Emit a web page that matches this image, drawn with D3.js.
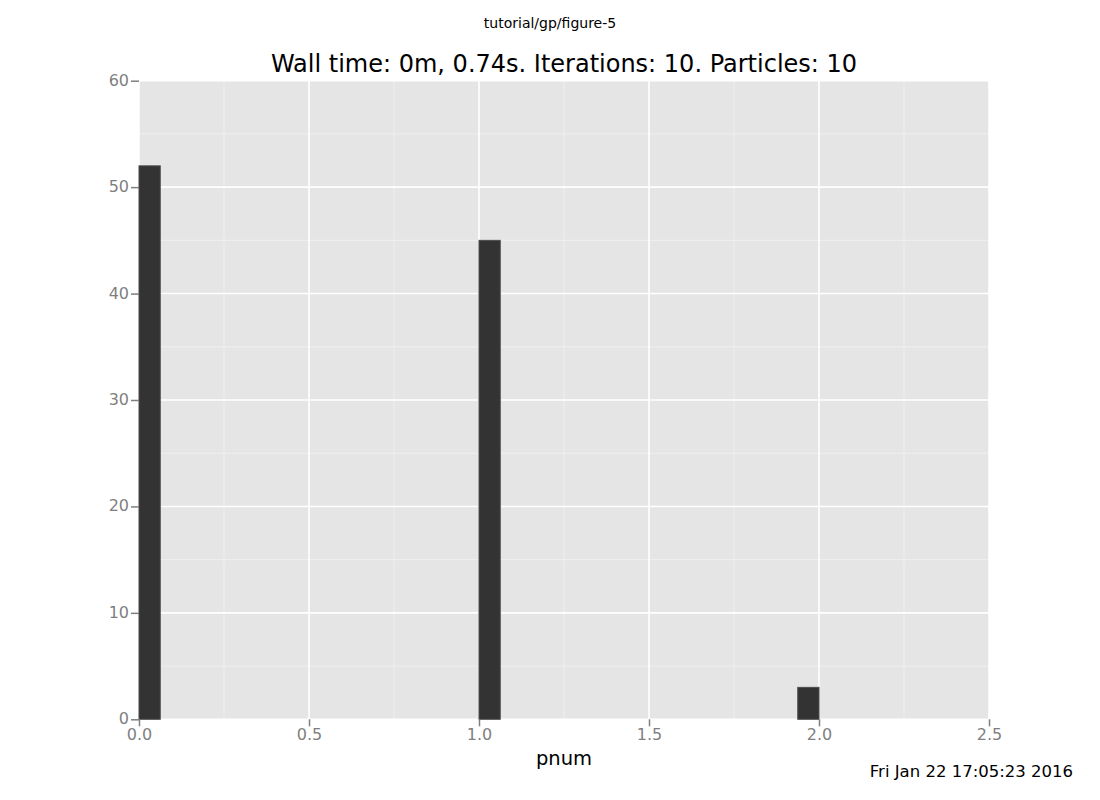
<!DOCTYPE html>
<html>
<head>
<meta charset="utf-8">
<script src="https://cdn.jsdelivr.net/npm/d3@7"></script>
<style>
  body { margin: 0; background: #fff; }
  text { font-family: "DejaVu Sans", sans-serif; }
</style>
</head>
<body>
<div id="chart"></div>
<script>
// histogram bins of pnum (start, end) and their counts
const binStarts = [0.0, 1.0, 1.9375];
const binEnds = [0.0625, 1.0625, 2.0];
const counts = [52, 45, 3];
const xTicks = [0.0, 0.5, 1.0, 1.5, 2.0, 2.5];
const yTicks = [0, 10, 20, 30, 40, 50, 60];

const width = 1100, height = 800;
const margin = {top: 80.7, right: 111, bottom: 80.7, left: 139};
const iw = width - margin.left - margin.right,
	ih = height - margin.top - margin.bottom;

const svg = d3.select("#chart").append("svg")
	.attr("width", width)
	.attr("height", height);

const x = d3.scaleLinear().domain([0, 2.5]).range([0, iw]);
const y = d3.scaleLinear().domain([0, 60]).range([ih, 0]);

const g = svg.append("g")
	.attr("transform", "translate(" + margin.left + "," + margin.top + ")");

// panel background
g.append("rect")
	.attr("width", iw)
	.attr("height", ih)
	.attr("fill", "#e5e5e5");

// minor grid
const xMinor = d3.range(0.25, 2.5, 0.5);
const yMinor = d3.range(5, 60, 10);
g.selectAll(".xminor").data(xMinor).enter().append("line")
	.attr("x1", d => x(d)).attr("x2", d => x(d))
	.attr("y1", 0).attr("y2", ih)
	.attr("stroke", "#f2f2f2").attr("stroke-width", 0.8);
g.selectAll(".yminor").data(yMinor).enter().append("line")
	.attr("x1", 0).attr("x2", iw)
	.attr("y1", d => y(d)).attr("y2", d => y(d))
	.attr("stroke", "#f2f2f2").attr("stroke-width", 0.8);

// major grid
g.selectAll(".xmajor").data(xTicks).enter().append("line")
	.attr("x1", d => x(d)).attr("x2", d => x(d))
	.attr("y1", 0).attr("y2", ih)
	.attr("stroke", "#ffffff").attr("stroke-width", 1.6);
g.selectAll(".ymajor").data(yTicks).enter().append("line")
	.attr("x1", 0).attr("x2", iw)
	.attr("y1", d => y(d)).attr("y2", d => y(d))
	.attr("stroke", "#ffffff").attr("stroke-width", 1.6);

// bars
g.selectAll(".bar").data(counts).enter().append("rect")
	.attr("class", "bar")
	.attr("x", (d, i) => x(binStarts[i]))
	.attr("width", (d, i) => x(binEnds[i]) - x(binStarts[i]))
	.attr("y", d => y(d))
	.attr("height", d => ih - y(d))
	.attr("fill", "#333333")
	.attr("stroke", "#4d4d4d")
	.attr("stroke-width", 1);

// axes
const xAxis = g.append("g")
	.attr("transform", "translate(0," + ih + ")")
	.call(d3.axisBottom(x).tickValues(xTicks).tickFormat(d3.format(".1f")).tickSize(7).tickPadding(2));
const yAxis = g.append("g")
	.call(d3.axisLeft(y).tickValues(yTicks).tickFormat(d3.format("d")).tickSize(8).tickPadding(2));

[xAxis, yAxis].forEach(a => {
	a.select(".domain").remove();
	a.selectAll(".tick line").attr("stroke", "#7f7f7f").attr("stroke-width", 1.5);
	a.selectAll(".tick text")
		.attr("fill", "#7f7f7f")
		.style("font-size", "16px")
		.style("font-family", "DejaVu Sans, sans-serif");
});
yAxis.selectAll(".tick text").attr("dy", "0.28em");

// texts
svg.append("text")
	.attr("x", 550).attr("y", 28)
	.attr("text-anchor", "middle")
	.style("font-size", "14px")
	.text("tutorial/gp/figure-5");

svg.append("text")
	.attr("x", margin.left + iw / 2).attr("y", 72)
	.attr("text-anchor", "middle")
	.style("font-size", "24px")
	.text("Wall time: 0m, 0.74s. Iterations: 10. Particles: 10");

svg.append("text")
	.attr("x", margin.left + iw / 2).attr("y", 765)
	.attr("text-anchor", "middle")
	.style("font-size", "19.5px")
	.text("pnum");

svg.append("text")
	.attr("x", 1073).attr("y", 777)
	.attr("text-anchor", "end")
	.style("font-size", "16.5px")
	.text("Fri Jan 22 17:05:23 2016");
</script>
</body>
</html>
